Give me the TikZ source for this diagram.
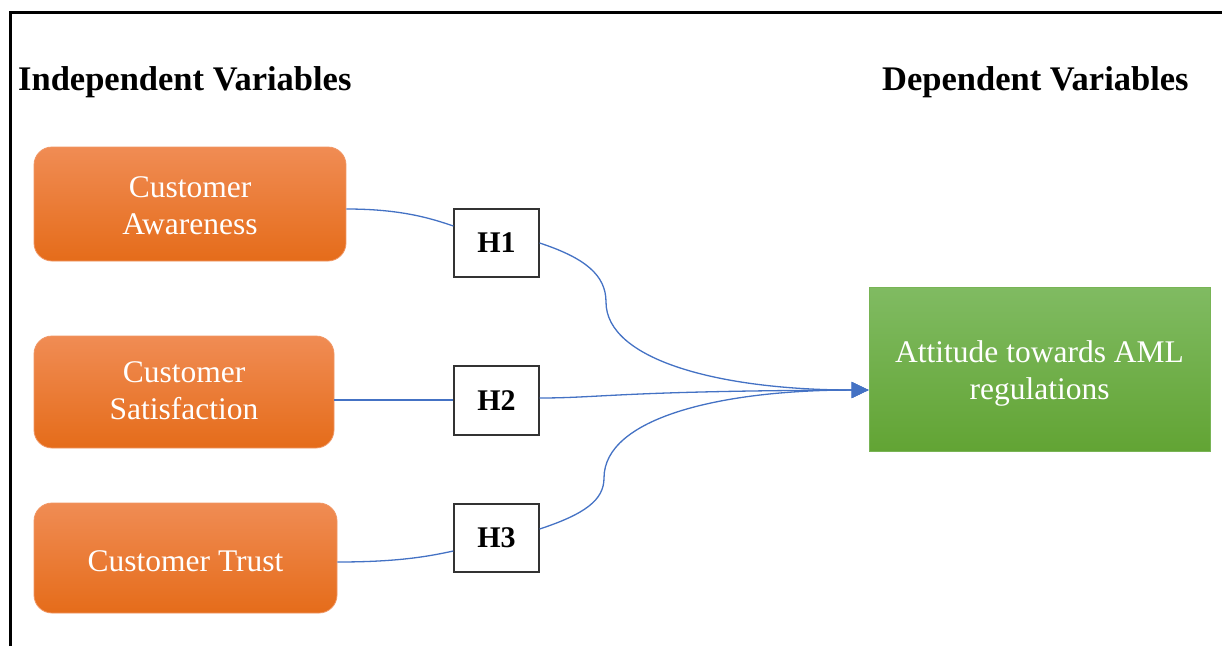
\documentclass[tikz,border=0pt]{standalone}
\usepackage{fontspec}
\setmainfont{Liberation Serif}
\usetikzlibrary{arrows.meta,calc}
\definecolor{linkblue}{RGB}{68,114,196}
\definecolor{orTop}{RGB}{240,140,84}
\definecolor{orMid}{RGB}{243,124,38}
\definecolor{orBot}{RGB}{229,108,26}
\definecolor{orEdge}{RGB}{240,150,100}
\definecolor{grTop}{RGB}{128,187,98}
\definecolor{grMid}{RGB}{112,176,70}
\definecolor{grBot}{RGB}{98,164,52}
\definecolor{grEdge}{RGB}{120,180,85}
% text lowered inside its box while keeping the box's own dimensions
\newcommand{\lowered}[2]{\raisebox{#1}[\height][\depth]{#2}}
\newcommand{\twolines}[3]{\lowered{#1}{\begin{tabular}{@{}c@{}}#2\\#3\end{tabular}}}
\tikzset{
  varbox/.style={draw=orEdge, line width=0.8pt, rounded corners=18pt,
    top color=orTop, middle color=orMid, bottom color=orBot,
    text=white, align=center, inner sep=0pt,
    font=\fontsize{31.5}{37}\selectfont},
  depbox/.style={draw=grEdge, line width=0.8pt,
    top color=grTop, middle color=grMid, bottom color=grBot,
    text=white, align=center, inner sep=0pt,
    font=\fontsize{31.5}{37}\selectfont},
  hypbox/.style={draw=black!80, line width=1.3pt, fill=white,
    minimum width=85pt, minimum height=68pt, inner sep=0pt,
    font=\fontsize{30}{36}\selectfont\bfseries},
  heading/.style={anchor=base west, inner sep=0pt,
    font=\fontsize{34.5}{40}\selectfont\bfseries},
  link/.style={draw=linkblue, line width=1.3pt},
  tip/.style={-{Triangle[length=17pt,width=16pt]}}
}
\begin{document}
\begin{tikzpicture}[x=1pt,y=-1pt]
\useasboundingbox (0,0) rectangle (1222,646);

% outer frame (top and left edges)
\draw[line width=2.8pt] (10.5,646) -- (10.5,12.5) -- (1222,12.5);

% headings
\node[heading] (hind) at (18,90) {Independent Variables};
\node[heading] (hdep) at (882,90) {Dependent Variables};

% independent variables
\node[varbox, minimum width=312pt, minimum height=114pt] (ca) at (190,204) {\twolines{-5pt}{Customer}{Awareness}};
\node[varbox, minimum width=300pt, minimum height=112pt] (cs) at (184,392) {\twolines{-1.5pt}{Customer}{Satisfaction}};
\node[varbox, minimum width=303pt, minimum height=110pt] (ct) at (185.5,558) {\lowered{-3pt}{Customer Trust}};

% hypotheses
\node[hypbox] (h1) at (496.5,243) {H1};
\node[hypbox, minimum height=69pt] (h2) at (496.5,400.5) {H2};
\node[hypbox] (h3) at (496.5,538) {H3};

% dependent variable
\node[depbox, minimum width=341pt, minimum height=164pt] (att) at (1039.5,369) {\twolines{-5pt}{Attitude towards AML}{regulations}};

\coordinate (target) at ([yshift=-21pt]att.west);

% connectors into the hypotheses
\draw[link] ([yshift=-5pt]ca.east) .. controls (400,209) and (430,218) .. ([yshift=17pt]h1.west);
\draw[link] ([yshift=-8pt]cs.east) -- ([yshift=0.5pt]h2.west);
\draw[link] ([yshift=-4pt]ct.east) .. controls (400,562) and (430,556) .. ([yshift=-13pt]h3.west);

% connectors into the dependent variable
\draw[link, tip] (h1.east) .. controls (585,258) and (606,275) .. (606,302)
  .. controls (606,360) and (720,390) .. (target);
\draw[link, tip] ([yshift=2.5pt]h2.east) .. controls (600,398) and (620,391) .. (target);
\draw[link, tip] ([yshift=9pt]h3.east) .. controls (585,514) and (604,500) .. (604,478)
  .. controls (604,418) and (720,390) .. (target);
\end{tikzpicture}
\end{document}
